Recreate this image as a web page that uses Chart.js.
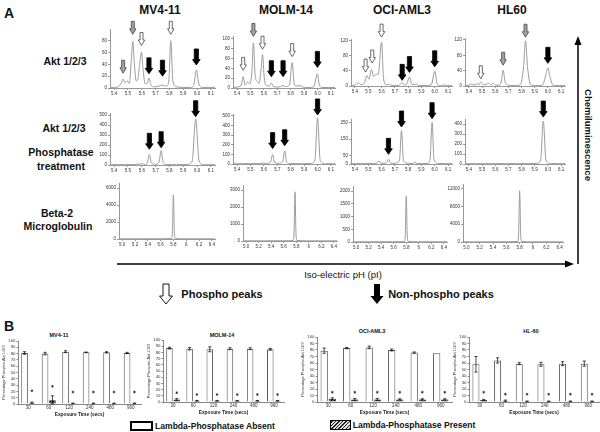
<!DOCTYPE html>
<html lang="en">
<head>
<meta charset="UTF-8">
<title>Akt 1/2/3 isoelectric focusing</title>
<script src="https://cdn.jsdelivr.net/npm/chart.js"></script>
<style>
  body { margin: 0; background: #fff; font-family: "Liberation Sans", Arial, sans-serif; }
  #fig { position: relative; width: 600px; height: 432px; overflow: hidden; }
  #fig canvas { position: absolute; }
  .t { position: absolute; white-space: nowrap; font-weight: bold; color: #111; transform: translate(-50%, -50%); }
  svg { position: absolute; left: 0; top: 0; }
</style>
</head>
<body>
<div id="fig">
  <div class="t" style="left:9px;top:13px;font-size:14px">A</div>
  <div class="t" style="left:160px;top:10px;font-size:12px">MV4-11</div>
  <div class="t" style="left:286px;top:10px;font-size:12px">MOLM-14</div>
  <div class="t" style="left:402px;top:10px;font-size:12px">OCI-AML3</div>
  <div class="t" style="left:512px;top:10px;font-size:12px">HL60</div>

  <div class="t" style="left:65px;top:61px;font-size:10.5px">Akt 1/2/3</div>
  <div class="t" style="left:64px;top:128px;font-size:10.5px">Akt 1/2/3</div>
  <div class="t" style="left:61px;top:152px;font-size:10.5px">Phosphatase</div>
  <div class="t" style="left:61px;top:166px;font-size:10.5px">treatment</div>
  <div class="t" style="left:57px;top:213px;font-size:10.5px">Beta-2</div>
  <div class="t" style="left:58px;top:226px;font-size:10.5px">Microglobulin</div>

  <div class="t" style="left:588px;top:135px;font-size:9.5px;transform:translate(-50%,-50%) rotate(90deg)">Chemiluminescence</div>
  <div class="t" style="left:343px;top:274px;font-size:9.5px;font-weight:normal">Iso-electric pH (pI)</div>
  <div class="t" style="left:222px;top:294px;font-size:11px">Phospho peaks</div>
  <div class="t" style="left:441px;top:294px;font-size:11px">Non-phospho peaks</div>

  <div class="t" style="left:9px;top:326px;font-size:14px">B</div>
  <div class="t" style="left:59px;top:335px;font-size:5.5px">MV4-11</div>
  <div class="t" style="left:222px;top:335px;font-size:5.5px">MOLM-14</div>
  <div class="t" style="left:372px;top:331px;font-size:5.5px">OCI-AML3</div>
  <div class="t" style="left:531px;top:331px;font-size:5.5px">HL-60</div>

  <div style="position:absolute;left:130px;top:421px;width:19px;height:6px;border:2px solid #000;background:#fff"></div>
  <div class="t" style="left:215px;top:426px;font-size:9px;transform:translate(-50%,-50%) scaleX(0.95)">Lambda-Phosphatase Absent</div>
  <div style="position:absolute;left:330px;top:420px;width:19px;height:8px;border:1px solid #000;background:repeating-linear-gradient(-45deg,#222 0 1px,#ddd 1px 2.5px)"></div>
  <div class="t" style="left:414px;top:425px;font-size:9px;transform:translate(-50%,-50%) scaleX(0.95)">Lambda-Phosphatase Present</div>

  <svg width="600" height="432">
    <line x1="117" y1="264" x2="567" y2="264" stroke="#000" stroke-width="1.5"/>
    <polygon points="574,264 565,260.5 565,267.5" fill="#000"/>
    <line x1="578" y1="264" x2="578" y2="43" stroke="#000" stroke-width="1.5"/>
    <polygon points="578,36 574.5,45 581.5,45" fill="#000"/>
    <polygon points="163,284 169,284 169,296 172.5,296 166,304 159.5,296 163,296" fill="#fff" stroke="#000" stroke-width="0.9"/>
    <polygon points="374,284 380,284 380,296 383.5,296 377,304 370.5,296 374,296" fill="#000"/>
  </svg>
</div>

<script>
// ---------- panel A : pI axes ----------
const pITicks = [5.4, 5.5, 5.6, 5.7, 5.8, 5.9, 6.0, 6.1];
const pILabels = ['5.4', '5.5', '5.6', '5.7', '5.8', '5.9', '6.0', '6.1'];
const pITicksWide = [5.0, 5.2, 5.4, 5.6, 5.8, 6.0, 6.2, 6.4];
const pILabelsWide = ['5.0', '5.2', '5.4', '5.6', '5.8', '6', '6.2', '6.4'];

// Akt 1/2/3, untreated
const mvAktX = [5.37, 5.40, 5.43, 5.45, 5.465, 5.48, 5.495, 5.51, 5.525, 5.535, 5.545, 5.56, 5.57, 5.585, 5.598, 5.61, 5.625, 5.64, 5.652, 5.665, 5.69, 5.72, 5.75, 5.775, 5.795, 5.81, 5.825, 5.85, 5.9, 5.95, 5.975, 5.995, 6.015, 6.04, 6.08, 6.13];
const mvAktY = [1, 1, 2, 8, 15, 9, 12, 8, 50, 79, 45, 12, 14, 40, 61, 30, 7, 8, 17, 6, 2, 3, 5, 3, 10, 80, 12, 2, 1, 1, 4, 30, 5, 1, 1, 1];
const molmAktX = [5.37, 5.40, 5.43, 5.446, 5.46, 5.48, 5.495, 5.51, 5.522, 5.535, 5.55, 5.565, 5.578, 5.59, 5.603, 5.62, 5.64, 5.656, 5.67, 5.7, 5.725, 5.743, 5.76, 5.79, 5.811, 5.825, 5.84, 5.87, 5.89, 5.93, 5.97, 5.999, 6.015, 6.04, 6.08, 6.13];
const molmAktY = [1, 2, 5, 23, 6, 12, 8, 30, 92, 25, 14, 10, 35, 68, 20, 5, 4, 10, 3, 2, 3, 5, 3, 6, 52, 10, 4, 5, 2, 1, 2, 29, 4, 1, 1, 1];
const ociAktX = [5.37, 5.40, 5.425, 5.445, 5.47, 5.49, 5.505, 5.525, 5.54, 5.56, 5.575, 5.6, 5.615, 5.635, 5.65, 5.67, 5.7, 5.735, 5.755, 5.77, 5.79, 5.81, 5.83, 5.86, 5.88, 5.93, 5.975, 6.0, 6.02, 6.05, 6.07, 6.09, 6.13];
const ociAktY = [1, 3, 8, 4, 8, 28, 18, 44, 25, 32, 30, 117, 20, 3, 5, 2, 1, 3, 9, 3, 6, 24, 4, 5, 1, 1, 4, 40, 4, 1, 3, 1, 1];
const hlAktX = [5.37, 5.40, 5.42, 5.44, 5.465, 5.475, 5.49, 5.51, 5.53, 5.55, 5.565, 5.585, 5.6, 5.625, 5.645, 5.66, 5.675, 5.7, 5.75, 5.79, 5.815, 5.83, 5.845, 5.87, 5.92, 5.96, 5.985, 6.0, 6.015, 6.04, 6.08, 6.13];
const hlAktY = [1, 2, 5, 2, 6, 3, 10, 3, 4, 7, 3, 7, 2, 2, 10, 41, 10, 2, 1, 3, 50, 118, 50, 3, 1, 3, 30, 47, 25, 2, 1, 1];

// Akt 1/2/3 after phosphatase
const mvPhosX = [5.37, 5.45, 5.55, 5.6, 5.625, 5.64, 5.655, 5.67, 5.7, 5.725, 5.74, 5.755, 5.78, 5.85, 5.93, 5.965, 5.99, 6.015, 6.05, 6.13];
const mvPhosY = [3, 3, 5, 12, 6, 20, 107, 20, 8, 30, 143, 25, 5, 3, 5, 40, 460, 40, 3, 3];
const molmPhosX = [5.37, 5.45, 5.55, 5.6, 5.62, 5.65, 5.665, 5.68, 5.71, 5.74, 5.755, 5.77, 5.8, 5.88, 5.95, 5.98, 6.0, 6.02, 6.06, 6.13];
const molmPhosY = [3, 3, 4, 10, 5, 20, 100, 15, 8, 25, 135, 20, 4, 3, 6, 40, 480, 35, 3, 3];
const ociPhosX = [5.37, 5.45, 5.54, 5.565, 5.58, 5.595, 5.62, 5.638, 5.652, 5.668, 5.7, 5.735, 5.75, 5.765, 5.8, 5.835, 5.85, 5.865, 5.9, 5.95, 5.965, 5.98, 5.995, 6.03, 6.08, 6.13];
const ociPhosY = [2, 2, 3, 6, 18, 5, 4, 8, 29, 6, 4, 25, 200, 20, 4, 3, 10, 3, 2, 4, 30, 250, 25, 3, 2, 2];
const hlPhosX = [5.37, 5.5, 5.6, 5.63, 5.66, 5.7, 5.72, 5.75, 5.85, 5.92, 5.945, 5.965, 5.985, 6.02, 6.13];
const hlPhosY = [3, 3, 3, 6, 3, 3, 5, 3, 4, 6, 40, 430, 40, 4, 3];

// Beta-2 microglobulin
const mvB2mX = [4.95, 5.3, 5.6, 5.77, 5.785, 5.8, 5.815, 5.83, 6.0, 6.45];
const mvB2mY = [20, 20, 30, 60, 900, 5200, 900, 60, 20, 20];
const molmB2mX = [4.95, 5.3, 5.6, 5.75, 5.765, 5.78, 5.795, 5.81, 6.0, 6.45];
const molmB2mY = [10, 10, 15, 30, 500, 2900, 500, 30, 10, 10];
const ociB2mX = [4.95, 5.3, 5.6, 5.77, 5.785, 5.8, 5.815, 5.83, 6.0, 6.45];
const ociB2mY = [8, 8, 10, 20, 300, 1800, 300, 20, 8, 8];
const hlB2mX = [4.95, 5.3, 5.6, 5.77, 5.785, 5.8, 5.815, 5.83, 6.0, 6.45];
const hlB2mY = [40, 40, 60, 120, 2000, 11500, 2000, 120, 40, 40];

// arrows: [pI, value at arrow tip, kind]
const mvAktArrows = [[5.465, 25, 'gray'], [5.535, 91, 'gray'], [5.598, 72, 'open'], [5.652, 24, 'solid'], [5.75, 20, 'solid'], [5.81, 91, 'open'], [5.995, 39, 'solid']];
const molmAktArrows = [[5.446, 36, 'open'], [5.522, 105, 'gray'], [5.59, 79, 'open'], [5.656, 23, 'solid'], [5.743, 23, 'solid'], [5.811, 64, 'open'], [5.999, 42, 'solid']];
const ociAktArrows = [[5.48, 37, 'open'], [5.53, 61, 'open'], [5.6, 130, 'open'], [5.755, 15, 'solid'], [5.81, 36, 'solid'], [6.0, 51, 'solid']];
const hlAktArrows = [[5.49, 19, 'open'], [5.66, 54, 'gray'], [5.83, 127, 'gray'], [6.0, 59, 'solid']];
const mvPhosArrows = [[5.655, 157, 'solid'], [5.74, 173, 'solid'], [5.99, 483, 'solid']];
const molmPhosArrows = [[5.665, 160, 'solid'], [5.755, 190, 'solid'], [6.0, 510, 'solid']];
const ociPhosArrows = [[5.652, 58, 'solid'], [5.75, 222, 'solid'], [5.98, 272, 'solid']];
const hlPhosArrows = [[5.965, 470, 'solid']];

// ---------- panel B : % phospho-Akt ----------
const exposureSecs = ['30', '60', '120', '240', '480', '960'];
const pctTicks = [0, 10, 20, 30, 40, 50, 60, 70, 80, 90, 100];

const mvAbsent = [81, 80, 83, 82, 82, 81], mvAbsentErr = [2, 2, 1.5, 0.5, 1, 1];
const mvPresent = [2, 6, 1, 1, 1, 1], mvPresentErr = [1, 7, 0.5, 0.5, 0.5, 0.5];
const mvStars = [21, 28, 19, 19, 19, 19];
const molmAbsent = [87, 86, 85, 86, 86, 85], molmAbsentErr = [1.5, 2, 4, 1.5, 1.5, 1.5];
const molmPresent = [4, 2, 2, 2, 2, 2], molmPresentErr = [1.5, 0.5, 0.5, 0.5, 0.5, 0.5];
const molmStars = [15, 12, 12, 12, 12, 12];
const ociAbsent = [79, 83, 84, 80, 76, 75], ociAbsentErr = [4, 1, 2, 1.5, 1, 0];
const ociPresent = [5, 4, 4, 4, 4, 4], ociPresentErr = [1.5, 1.5, 1.5, 1, 1, 1];
const ociStars = [15, 15, 15, 15, 15, 15];
const hlAbsent = [58, 64, 59, 58, 59, 59], hlAbsentErr = [12, 4, 1.5, 3, 3, 4];
const hlPresent = [3, 2, 1, 1, 1, 1], hlPresentErr = [1, 1, 0.5, 0.5, 0.5, 0.5];
const hlStars = [15, 12, 12, 12, 12, 12];

Chart.defaults.font.family = '"Liberation Sans", Arial, sans-serif';
const fig = document.getElementById('fig');

const arrowPlugin = {
  id: 'peakArrows',
  afterDatasetsDraw(chart, args, opts) {
    const ctx = chart.ctx, xs = chart.scales.x, ys = chart.scales.y;
    (opts.list || []).forEach(([x, v, kind]) => {
      const px = xs.getPixelForValue(x), tip = ys.getPixelForValue(v);
      const solid = kind === 'solid';
      const len = solid ? 16 : 13, hw = solid ? 3.8 : 3.2, sw = solid ? 2.1 : 1.5, hl = 5.5;
      ctx.save();
      ctx.beginPath();
      ctx.moveTo(px, tip);
      ctx.lineTo(px - hw, tip - hl);
      ctx.lineTo(px - sw, tip - hl);
      ctx.lineTo(px - sw, tip - len);
      ctx.lineTo(px + sw, tip - len);
      ctx.lineTo(px + sw, tip - hl);
      ctx.lineTo(px + hw, tip - hl);
      ctx.closePath();
      ctx.fillStyle = solid ? '#000' : (kind === 'gray' ? '#a3a3a3' : '#fff');
      ctx.fill();
      ctx.lineWidth = 0.8;
      ctx.strokeStyle = solid ? '#000' : '#444';
      ctx.stroke();
      ctx.restore();
    });
  }
};

// box = [left, right, top, bottom] of the plot area on the page
function trace(box, xs, ys, xMin, xMax, xTicks, xLabels, yMax, yTicks, arrows) {
  const padTop = 24, yw = 16, xh = 11, padR = 3;
  const cv = document.createElement('canvas');
  cv.width = box[1] - box[0] + yw + padR;
  cv.height = box[3] - box[2] + padTop + xh;
  cv.style.left = (box[0] - yw) + 'px';
  cv.style.top = (box[2] - padTop) + 'px';
  fig.appendChild(cv);
  const tickFont = { size: 4.5 };
  new Chart(cv, {
    type: 'line',
    data: {
      datasets: [{
        data: xs.map((x, i) => ({ x: x, y: ys[i] })),
        borderColor: '#9a9a9a', borderWidth: 1, pointRadius: 0,
        cubicInterpolationMode: 'monotone', fill: false
      }]
    },
    options: {
      responsive: false, animation: false, devicePixelRatio: 1,
      layout: { padding: { top: padTop, right: padR, left: 0, bottom: 0 } },
      plugins: { legend: { display: false }, tooltip: { enabled: false }, peakArrows: { list: arrows || [] } },
      scales: {
        x: {
          type: 'linear', min: xMin, max: xMax,
          afterBuildTicks: s => { s.ticks = xTicks.map(v => ({ value: v })); },
          afterFit: s => { s.height = xh; },
          ticks: { font: tickFont, color: '#333', padding: 1, maxRotation: 0, autoSkip: false,
                   callback: (v, i) => xLabels[i] },
          grid: { drawOnChartArea: false, tickLength: 2, color: '#999' },
          border: { color: '#999' }
        },
        y: {
          min: 0, max: yMax,
          afterBuildTicks: s => { s.ticks = yTicks.map(v => ({ value: v })); },
          afterFit: s => { s.width = yw; },
          ticks: { font: tickFont, color: '#333', padding: 1, autoSkip: false, callback: v => String(v) },
          grid: { drawOnChartArea: false, tickLength: 2, color: '#999' },
          border: { color: '#999' }
        }
      }
    },
    plugins: [arrowPlugin]
  });
}

// row 1
trace([110, 215, 29, 88], mvAktX, mvAktY, 5.37, 6.13, pITicks, pILabels, 100, [0, 20, 40, 60, 80], mvAktArrows);
trace([233, 335, 36, 88], molmAktX, molmAktY, 5.37, 6.13, pITicks, pILabels, 106, [0, 20, 40, 60, 80, 100], molmAktArrows);
trace([351, 452, 39, 86], ociAktX, ociAktY, 5.37, 6.13, pITicks, pILabels, 125, [0, 40, 80, 120], ociAktArrows);
trace([465, 565, 38, 86], hlAktX, hlAktY, 5.37, 6.13, pITicks, pILabels, 125, [0, 40, 80, 120], hlAktArrows);
// row 2
trace([110, 215, 113, 165], mvPhosX, mvPhosY, 5.37, 6.13, pITicks, pILabels, 520, [0, 100, 200, 300, 400, 500], mvPhosArrows);
trace([233, 335, 114, 164], molmPhosX, molmPhosY, 5.37, 6.13, pITicks, pILabels, 520, [0, 100, 200, 300, 400, 500], molmPhosArrows);
trace([351, 452, 119, 164], ociPhosX, ociPhosY, 5.37, 6.13, pITicks, pILabels, 270, [0, 50, 150, 250], ociPhosArrows);
trace([465, 565, 119, 164], hlPhosX, hlPhosY, 5.37, 6.13, pITicks, pILabels, 450, [0, 100, 200, 300, 400], hlPhosArrows);
// row 3
trace([119, 215, 183, 239], mvB2mX, mvB2mY, 4.95, 6.45, pITicksWide, pILabelsWide, 6600, [0, 2000, 4000, 6000]);
trace([243, 337, 185, 241], molmB2mX, molmB2mY, 4.95, 6.45, pITicksWide, pILabelsWide, 3300, [0, 1000, 2000, 3000]);
trace([353, 447, 186, 242], ociB2mX, ociB2mY, 4.95, 6.45, pITicksWide, pILabelsWide, 2200, [0, 500, 1000, 1500, 2000]);
trace([463, 563, 184, 242], hlB2mX, hlB2mY, 4.95, 6.45, pITicksWide, pILabelsWide, 13000, [0, 4000, 8000, 12000]);

// ---------- bar charts ----------
function hatch() {
  const c = document.createElement('canvas');
  c.width = 3; c.height = 3;
  const g = c.getContext('2d');
  g.fillStyle = '#6a6a6a'; g.fillRect(0, 0, 3, 3);
  g.strokeStyle = '#000'; g.lineWidth = 1;
  g.beginPath(); g.moveTo(-1, 4); g.lineTo(4, -1); g.stroke();
  return g.createPattern(c, 'repeat');
}

const errPlugin = {
  id: 'errBars',
  afterDatasetsDraw(chart, args, opts) {
    const ctx = chart.ctx, y = chart.scales.y;
    ctx.save();
    ctx.strokeStyle = '#000';
    ctx.lineWidth = 0.7;
    chart.data.datasets.forEach((ds, di) => {
      chart.getDatasetMeta(di).data.forEach((bar, i) => {
        const v = ds.data[i], e = ds.errors[i];
        if (!e) return;
        const t = y.getPixelForValue(v + e), b = y.getPixelForValue(Math.max(v - e, 0));
        ctx.beginPath();
        ctx.moveTo(bar.x, t); ctx.lineTo(bar.x, b);
        ctx.moveTo(bar.x - 1.6, t); ctx.lineTo(bar.x + 1.6, t);
        ctx.moveTo(bar.x - 1.6, b); ctx.lineTo(bar.x + 1.6, b);
        ctx.stroke();
      });
    });
    // significance stars above the phosphatase bars
    const meta = chart.getDatasetMeta(1);
    ctx.lineWidth = 0.6;
    (opts.stars || []).forEach((s, i) => {
      const cx = meta.data[i].x, cy = y.getPixelForValue(s);
      ctx.beginPath();
      for (let k = 0; k < 3; k++) {
        const a = Math.PI / 2 + k * Math.PI / 3;
        ctx.moveTo(cx - 1.4 * Math.cos(a), cy - 1.4 * Math.sin(a));
        ctx.lineTo(cx + 1.4 * Math.cos(a), cy + 1.4 * Math.sin(a));
      }
      ctx.stroke();
    });
    ctx.restore();
  }
};

function bars(box, absent, absentErr, present, presentErr, stars) {
  const padTop = 4, yw = 17, xh = 14, padR = 2;
  const cv = document.createElement('canvas');
  cv.width = box[1] - box[0] + yw + padR;
  cv.height = box[3] - box[2] + padTop + xh;
  cv.style.left = (box[0] - yw) + 'px';
  cv.style.top = (box[2] - padTop) + 'px';
  fig.appendChild(cv);
  new Chart(cv, {
    type: 'bar',
    data: {
      labels: exposureSecs,
      datasets: [
        { label: 'Lambda-Phosphatase Absent', data: absent, errors: absentErr,
          backgroundColor: '#fff', borderColor: '#555', borderWidth: 1,
          barPercentage: 0.9, categoryPercentage: 0.72 },
        { label: 'Lambda-Phosphatase Present', data: present, errors: presentErr,
          backgroundColor: hatch(), borderColor: '#222', borderWidth: 0.8,
          barPercentage: 0.9, categoryPercentage: 0.72 }
      ]
    },
    options: {
      responsive: false, animation: false, devicePixelRatio: 1,
      layout: { padding: { top: padTop, right: padR, left: 0, bottom: 0 } },
      plugins: { legend: { display: false }, tooltip: { enabled: false }, errBars: { stars: stars } },
      scales: {
        x: {
          afterFit: s => { s.height = xh; },
          ticks: { font: { size: 4.5 }, color: '#333', padding: 1.5, maxRotation: 0, autoSkip: false },
          grid: { display: false, drawTicks: false, tickLength: 0 },
          border: { color: '#888' },
          title: { display: true, text: 'Exposure Time (secs)', font: { size: 4.8, weight: 'bold' }, color: '#222', padding: 0.5 }
        },
        y: {
          min: 0, max: 100,
          afterBuildTicks: s => { s.ticks = pctTicks.map(v => ({ value: v })); },
          afterFit: s => { s.width = yw; },
          ticks: { font: { size: 4.3 }, color: '#333', padding: 1, autoSkip: false },
          grid: { drawOnChartArea: false, tickLength: 1.5, color: '#888' },
          border: { color: '#888' },
          title: { display: true, text: 'Percentage Phospho-Akt 1/2/3', font: { size: 4 }, color: '#333', padding: 0 }
        }
      }
    },
    plugins: [errPlugin]
  });
}

bars([18, 141, 341, 404], mvAbsent, mvAbsentErr, mvPresent, mvPresentErr, mvStars);
bars([163, 284, 340, 402], molmAbsent, molmAbsentErr, molmPresent, molmPresentErr, molmStars);
bars([317, 452, 337, 402], ociAbsent, ociAbsentErr, ociPresent, ociPresentErr, ociStars);
bars([469, 599, 337, 402], hlAbsent, hlAbsentErr, hlPresent, hlPresentErr, hlStars);
</script>
</body>
</html>
